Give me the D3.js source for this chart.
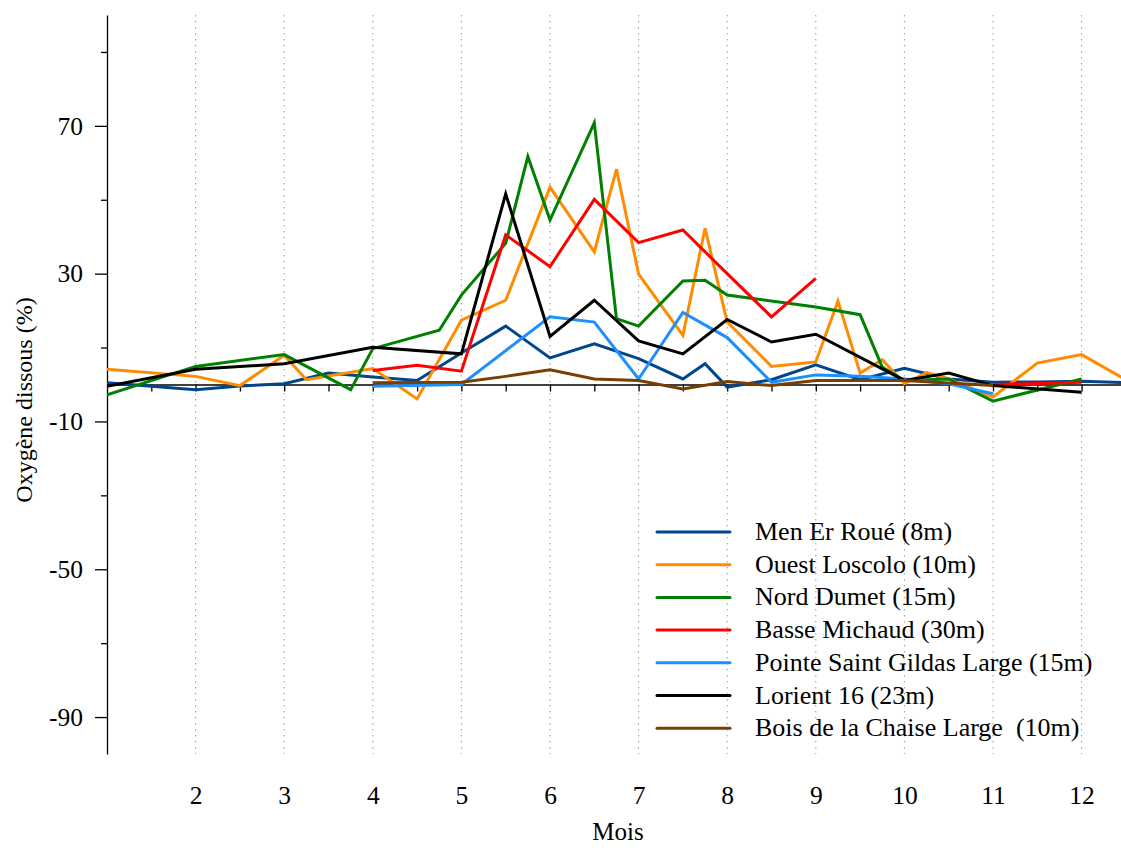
<!DOCTYPE html>
<html>
<head>
<meta charset="utf-8">
<script src="https://cdn.jsdelivr.net/npm/d3@7"></script>
<style>
  body { margin: 0; background: #fff; }
  svg { display: block; font-family: "Liberation Serif", "DejaVu Serif", serif; }
  .axis text { font-family: "Liberation Serif", serif; font-size: 25.5px; fill: #000; }
  .axis path, .axis line { stroke: #000; stroke-width: 1.3; }
</style>
</head>
<body>
<div id="chart"></div>
<script>
// Data (months, values)
var seriesNames = ["Men Er Roué (8m)", "Ouest Loscolo (10m)", "Nord Dumet (15m)",
    "Basse Michaud (30m)", "Pointe Saint Gildas Large (15m)", "Lorient 16 (23m)",
    "Bois de la Chaise Large  (10m)"];
var seriesColors = ["#00468b", "#ff8c00", "#008000", "#ff0000", "#1e8fff", "#000000", "#7a3f00"];

var menErRoueX = [1, 2, 2.5, 3, 3.5, 4, 4.5, 5, 5.5, 6, 6.5, 7, 7.5, 7.75, 8, 8.5, 9, 9.5, 10, 10.5, 11, 11.5, 12, 12.5];
var menErRoueY = [0.5, -1.4, -0.4, 0.2, 3.1, 2, 1.1, 8.5, 15.8, 7.2, 11, 7, 1.5, 5.6, -0.7, 1.3, 5.3, 1.3, 4.4, 1.5, 0.6, 0.7, 0.9, 0.5];

var ouestLoscoloX = [1, 2, 2.5, 3, 3.25, 4, 4.5, 5, 5.5, 6, 6.5, 6.75, 7, 7.5, 7.75, 8, 8.5, 9, 9.25, 9.5, 9.75, 10, 10.25, 10.5, 11, 11.5, 12, 12.5];
var ouestLoscoloY = [4.1, 2.2, -0.3, 7.9, 1.3, 4.3, -3.9, 17.4, 22.8, 53.4, 35.9, 58.3, 29.9, 13.3, 42.3, 16.9, 4.9, 6.1, 22.6, 3.1, 6.7, 0.2, 3.2, 1.5, -3.4, 5.8, 8.1, 1.3];

var nordDumetX = [1, 2, 3, 3.75, 4, 4.75, 5, 5.5, 5.75, 6, 6.5, 6.75, 7, 7.5, 7.75, 8, 9, 9.5, 9.75, 10, 10.5, 11, 12];
var nordDumetY = [-2.8, 4.9, 8.1, -1.4, 9.7, 14.7, 24.2, 38.2, 61.7, 44.5, 70.8, 17.8, 15.8, 28, 28.2, 24.2, 21, 18.9, 4.7, 1.1, 1.5, -4.5, 1.5];

var basseMichaudX = [4, 4.5, 5, 5.5, 6, 6.5, 7, 7.5, 8, 8.5, 9, 10, 11, 11.5, 12];
var basseMichaudY = [3.8, 5.2, 3.6, 40.5, 31.9, 50.1, 38.4, 41.8, 30, 18.3, 28.7, null, 0, 0.3, 0.6];

var pointeGildasX = [4, 5, 6, 6.5, 7, 7.5, 8, 8.5, 9, 9.5, 10, 10.5, 11];
var pointeGildasY = [-0.5, 0, 18.3, 16.9, 1.5, 19.5, 12.7, 0.6, 2.6, 2.2, 1.5, 0.2, -2.5];

var lorientX = [1, 2, 3, 4, 5, 5.5, 6, 6.5, 7, 7.5, 8, 8.5, 9, 10, 10.5, 11, 12];
var lorientY = [-0.5, 4.1, 5.6, 10.1, 8.3, 51.6, 13, 22.8, 11.8, 8.3, 17.6, 11.5, 13.6, 1.1, 3.1, -0.3, -2.1];

var boisChaiseX = [4, 5, 5.5, 6, 6.5, 7, 7.5, 8, 8.5, 9, 10, 11];
var boisChaiseY = [0.5, 0.6, 2.2, 4, 1.5, 1.1, -1.2, 0.8, -0.3, 1.1, 1.1, -0.3];

var monthTicks = [2, 3, 4, 5, 6, 7, 8, 9, 10, 11, 12];
var halfMonthTicks = [1.5, 2, 2.5, 3, 3.5, 4, 4.5, 5, 5.5, 6, 6.5, 7, 7.5, 8, 8.5, 9, 9.5, 10, 10.5, 11, 11.5, 12];
var yMajorTicks = [-90, -50, -10, 30, 70];
var yMinorTicks = [-70, -30, 10, 50, 90];

var allX = [menErRoueX, ouestLoscoloX, nordDumetX, basseMichaudX, pointeGildasX, lorientX, boisChaiseX];
var allY = [menErRoueY, ouestLoscoloY, nordDumetY, basseMichaudY, pointeGildasY, lorientY, boisChaiseY];

// Setup
var width = 1121, height = 848;

var scaleX = d3.scaleLinear()
    .domain([1, 12.5])
    .range([107, 107 + 11.5 * 88.6]);

var scaleY = d3.scaleLinear()
    .domain([-100, 100])
    .range([754, 15]);

var svg = d3.select("#chart").append("svg")
    .attr("width", width)
    .attr("height", height);

svg.append("rect").attr("width", width).attr("height", height).attr("fill", "#fff");

// dotted grid
svg.append("g").selectAll("line")
    .data(monthTicks).enter().append("line")
    .attr("x1", function(d) { return scaleX(d); })
    .attr("x2", function(d) { return scaleX(d); })
    .attr("y1", scaleY(100))
    .attr("y2", scaleY(-100))
    .attr("stroke", "#999")
    .attr("stroke-width", 1)
    .attr("stroke-dasharray", "1.5,4.5");

// y axis (plain hyphen for negatives)
svg.append("g")
    .attr("class", "axis")
    .attr("transform", "translate(" + scaleX(1) + ",0)")
    .call(d3.axisLeft(scaleY).tickValues(yMajorTicks).tickSize(12).tickSizeOuter(0).tickPadding(12)
        .tickFormat(function(d) { return String(d); }));

svg.append("g")
    .attr("class", "axis")
    .attr("transform", "translate(" + scaleX(1) + ",0)")
    .call(d3.axisLeft(scaleY).tickValues(yMinorTicks).tickSize(6).tickSizeOuter(0).tickFormat(""))
    .select(".domain").remove();

// x axis on the zero line
svg.append("g")
    .attr("class", "axis")
    .attr("transform", "translate(0," + scaleY(0) + ")")
    .call(d3.axisBottom(scaleX).tickValues(halfMonthTicks).tickSize(7).tickSizeOuter(0).tickFormat(""));

// month labels at the bottom
var xLabels = svg.append("g")
    .attr("class", "axis")
    .attr("transform", "translate(0,783)")
    .call(d3.axisBottom(scaleX).tickValues(monthTicks).tickSize(0).tickFormat(function(d) { return String(d); }));
xLabels.select(".domain").remove();

// lines
var line = d3.line()
    .defined(function(d) { return d[1] !== null; })
    .x(function(d) { return scaleX(d[0]); })
    .y(function(d) { return scaleY(d[1]); });

svg.append("clipPath").attr("id", "clip")
    .append("rect").attr("x", scaleX(1)).attr("y", 0).attr("width", width - scaleX(1)).attr("height", height);

var plot = svg.append("g").attr("clip-path", "url(#clip)");

seriesNames.forEach(function(name, i) {
    var pts = allX[i].map(function(m, j) { return [m, allY[i][j]]; });
    plot.append("path")
        .datum(pts)
        .attr("d", line)
        .attr("fill", "none")
        .attr("stroke", seriesColors[i])
        .attr("stroke-width", 3)
        .attr("stroke-linejoin", "miter");
});

// legend
var legend = svg.append("g").selectAll("g")
    .data(seriesNames).enter().append("g")
    .attr("transform", function(d, i) { return "translate(657," + (532 + i * 32.7) + ")"; });

legend.append("line")
    .attr("x1", 0).attr("x2", 73)
    .attr("stroke", function(d, i) { return seriesColors[i]; })
    .attr("stroke-width", 3)
    .attr("stroke-linecap", "round");

legend.append("text")
    .attr("x", 98)
    .attr("y", 8)
    .attr("font-size", "26px")
    .style("white-space", "pre")
    .attr("xml:space", "preserve")
    .text(function(d) { return d; });

// axis titles
svg.append("text")
    .attr("x", 618)
    .attr("y", 840)
    .attr("text-anchor", "middle")
    .attr("font-size", "25px")
    .text("Mois");

svg.append("text")
    .attr("transform", "translate(32,400) rotate(-90)")
    .attr("text-anchor", "middle")
    .attr("font-size", "24px")
    .text("Oxygène dissous (%)");
</script>
</body>
</html>
